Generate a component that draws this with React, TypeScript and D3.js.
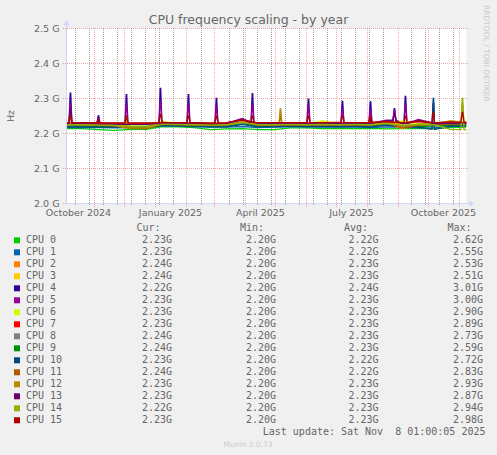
import React from 'react';
import * as d3 from 'd3';

const title = 'CPU frequency scaling - by year';
const yLabel = 'Hz';
const lastUpdate = 'Last update: Sat Nov  8 01:00:05 2025';
const version = 'Munin 2.0.73';
const watermark = 'RRDTOOL / TOBI OETIKER';

const cpuNames = [
  'CPU 0', 'CPU 1', 'CPU 2', 'CPU 3', 'CPU 4', 'CPU 5', 'CPU 6', 'CPU 7',
  'CPU 8', 'CPU 9', 'CPU 10', 'CPU 11', 'CPU 12', 'CPU 13', 'CPU 14', 'CPU 15',
];
const cpuColors = [
  '#00CC00', '#0066B3', '#FF8000', '#FFCC00', '#330099', '#990099', '#CCFF00', '#FF0000',
  '#808080', '#008F00', '#00487D', '#B35A00', '#B38F00', '#6B006B', '#8FB300', '#B30000',
];

// legend columns (GHz)
const curValues = [2.23, 2.23, 2.24, 2.24, 2.22, 2.23, 2.23, 2.23, 2.24, 2.24, 2.23, 2.24, 2.23, 2.23, 2.22, 2.23];
const minValues = [2.2, 2.2, 2.2, 2.2, 2.2, 2.2, 2.2, 2.2, 2.2, 2.2, 2.2, 2.2, 2.2, 2.2, 2.2, 2.2];
const avgValues = [2.22, 2.22, 2.23, 2.23, 2.24, 2.23, 2.23, 2.23, 2.23, 2.23, 2.22, 2.22, 2.23, 2.23, 2.23, 2.23];
const maxValues = [2.62, 2.55, 2.53, 2.51, 3.01, 3.0, 2.9, 2.89, 2.73, 2.59, 2.72, 2.83, 2.93, 2.87, 2.94, 2.98];

// sampled daily averages (GHz)
const sampleDates = [
  '2024-10-04', '2024-10-20', '2024-11-05', '2024-11-21', '2024-12-07', '2024-12-23',
  '2025-01-08', '2025-01-24', '2025-02-09', '2025-02-25', '2025-03-13', '2025-03-29',
  '2025-04-14', '2025-04-30', '2025-05-16', '2025-06-01', '2025-06-17', '2025-07-03',
  '2025-07-19', '2025-08-04', '2025-08-20', '2025-09-05', '2025-09-21', '2025-10-07',
  '2025-10-23', '2025-11-08',
];
const cpu0 = [2.214, 2.214, 2.211, 2.209, 2.212, 2.212, 2.220, 2.219, 2.217, 2.211, 2.213, 2.214, 2.211, 2.211, 2.216, 2.216, 2.214, 2.215, 2.214, 2.215, 2.213, 2.214, 2.215, 2.214, 2.217, 2.218];
const cpu1 = [2.217, 2.217, 2.217, 2.216, 2.217, 2.217, 2.222, 2.221, 2.219, 2.218, 2.218, 2.220, 2.217, 2.218, 2.219, 2.219, 2.218, 2.218, 2.219, 2.217, 2.219, 2.218, 2.216, 2.217, 2.220, 2.221];
const cpu2 = [2.224, 2.223, 2.222, 2.221, 2.216, 2.215, 2.226, 2.224, 2.222, 2.221, 2.223, 2.230, 2.221, 2.222, 2.224, 2.223, 2.224, 2.222, 2.223, 2.222, 2.226, 2.215, 2.222, 2.224, 2.226, 2.227];
const cpu3 = [2.226, 2.225, 2.224, 2.223, 2.219, 2.218, 2.235, 2.227, 2.225, 2.224, 2.225, 2.231, 2.224, 2.225, 2.226, 2.226, 2.234, 2.226, 2.227, 2.225, 2.229, 2.230, 2.226, 2.228, 2.236, 2.232];
const cpu4 = [2.228, 2.229, 2.228, 2.227, 2.226, 2.226, 2.229, 2.228, 2.228, 2.227, 2.228, 2.242, 2.229, 2.228, 2.229, 2.228, 2.228, 2.229, 2.228, 2.229, 2.236, 2.228, 2.238, 2.227, 2.230, 2.229];
const cpu5 = [2.229, 2.228, 2.229, 2.228, 2.227, 2.227, 2.230, 2.229, 2.229, 2.228, 2.229, 2.243, 2.229, 2.229, 2.230, 2.229, 2.229, 2.230, 2.229, 2.230, 2.238, 2.229, 2.240, 2.229, 2.231, 2.230];
const cpu6 = [2.225, 2.226, 2.225, 2.224, 2.222, 2.222, 2.230, 2.226, 2.226, 2.225, 2.226, 2.232, 2.226, 2.226, 2.226, 2.227, 2.237, 2.227, 2.228, 2.226, 2.230, 2.236, 2.228, 2.229, 2.234, 2.233];
const cpu7 = [2.230, 2.230, 2.230, 2.229, 2.229, 2.229, 2.231, 2.230, 2.230, 2.229, 2.230, 2.238, 2.230, 2.230, 2.230, 2.230, 2.230, 2.231, 2.230, 2.231, 2.233, 2.230, 2.234, 2.230, 2.232, 2.231];
const cpu8 = [2.222, 2.223, 2.222, 2.221, 2.220, 2.220, 2.225, 2.224, 2.223, 2.222, 2.222, 2.229, 2.222, 2.223, 2.223, 2.223, 2.224, 2.223, 2.223, 2.223, 2.226, 2.222, 2.225, 2.223, 2.226, 2.225];
const cpu9 = [2.221, 2.221, 2.220, 2.219, 2.219, 2.219, 2.224, 2.223, 2.222, 2.220, 2.221, 2.227, 2.220, 2.221, 2.222, 2.222, 2.221, 2.221, 2.222, 2.221, 2.224, 2.221, 2.220, 2.222, 2.224, 2.223];
const cpu10 = [2.219, 2.219, 2.218, 2.218, 2.218, 2.218, 2.223, 2.222, 2.221, 2.219, 2.219, 2.226, 2.219, 2.219, 2.221, 2.220, 2.220, 2.220, 2.220, 2.219, 2.223, 2.219, 2.218, 2.212, 2.221, 2.222];
const cpu11 = [2.225, 2.224, 2.223, 2.222, 2.215, 2.214, 2.226, 2.225, 2.224, 2.223, 2.224, 2.233, 2.223, 2.224, 2.225, 2.224, 2.225, 2.224, 2.225, 2.224, 2.230, 2.216, 2.224, 2.226, 2.227, 2.228];
const cpu12 = [2.226, 2.226, 2.225, 2.224, 2.216, 2.216, 2.228, 2.226, 2.226, 2.225, 2.226, 2.234, 2.226, 2.227, 2.227, 2.226, 2.227, 2.226, 2.227, 2.226, 2.231, 2.220, 2.227, 2.228, 2.236, 2.233];
const cpu13 = [2.228, 2.228, 2.227, 2.227, 2.226, 2.226, 2.229, 2.228, 2.228, 2.227, 2.228, 2.240, 2.228, 2.228, 2.229, 2.228, 2.228, 2.228, 2.228, 2.228, 2.236, 2.228, 2.237, 2.228, 2.230, 2.229];
const cpu14 = [2.225, 2.225, 2.224, 2.223, 2.220, 2.219, 2.227, 2.226, 2.225, 2.224, 2.225, 2.231, 2.225, 2.225, 2.226, 2.225, 2.226, 2.225, 2.226, 2.225, 2.229, 2.224, 2.226, 2.225, 2.212, 2.211];
const cpu15 = [2.231, 2.231, 2.231, 2.230, 2.230, 2.230, 2.231, 2.231, 2.231, 2.230, 2.231, 2.239, 2.231, 2.231, 2.231, 2.231, 2.231, 2.232, 2.231, 2.232, 2.234, 2.231, 2.235, 2.231, 2.233, 2.232];
const cpuSeries = [cpu0, cpu1, cpu2, cpu3, cpu4, cpu5, cpu6, cpu7, cpu8, cpu9, cpu10, cpu11, cpu12, cpu13, cpu14, cpu15];

// short peaks: [day, cpu index, peak GHz]
const spikes: [string, number, number][] = [
  ['2024-10-08', 4, 2.315], ['2024-10-08', 5, 2.285], ['2024-10-08', 13, 2.27], ['2024-10-08', 15, 2.25], ['2024-10-08', 12, 2.245],
  ['2024-11-05', 4, 2.252], ['2024-11-05', 5, 2.245], ['2024-11-05', 15, 2.238],
  ['2024-12-03', 4, 2.311], ['2024-12-03', 5, 2.28], ['2024-12-03', 15, 2.25], ['2024-12-03', 12, 2.245],
  ['2025-01-06', 4, 2.329], ['2025-01-06', 5, 2.29], ['2025-01-06', 15, 2.255],
  ['2025-02-03', 4, 2.311], ['2025-02-03', 5, 2.28], ['2025-02-03', 15, 2.25],
  ['2025-03-03', 4, 2.3], ['2025-03-03', 5, 2.275], ['2025-03-03', 15, 2.25],
  ['2025-04-08', 4, 2.314], ['2025-04-08', 5, 2.28], ['2025-04-08', 15, 2.25],
  ['2025-05-06', 12, 2.27], ['2025-05-06', 2, 2.255], ['2025-05-06', 11, 2.25],
  ['2025-06-03', 4, 2.298], ['2025-06-03', 5, 2.275], ['2025-06-03', 15, 2.25],
  ['2025-07-07', 4, 2.292], ['2025-07-07', 5, 2.27], ['2025-07-07', 15, 2.25],
  ['2025-08-04', 4, 2.292], ['2025-08-04', 5, 2.27], ['2025-08-04', 15, 2.25],
  ['2025-08-28', 4, 2.271], ['2025-08-28', 5, 2.265], ['2025-08-28', 13, 2.255],
  ['2025-09-08', 4, 2.306], ['2025-09-08', 5, 2.28], ['2025-09-08', 15, 2.25],
  ['2025-10-06', 10, 2.3], ['2025-10-06', 4, 2.285], ['2025-10-06', 15, 2.26],
  ['2025-11-04', 14, 2.3], ['2025-11-04', 12, 2.285], ['2025-11-04', 15, 2.26], ['2025-11-04', 3, 2.255],
];

const W = 497;
const H = 455;
const plot = { left: 66.5, right: 466.5, top: 28.5, bottom: 203.5 };
const sans = 'DejaVu Sans, sans-serif';
const mono = 'DejaVu Sans Mono, monospace';
const fontColor = '#666666';
const axisColor = '#CFD6F8';
const majorGrid = 'rgba(225,50,50,0.42)';
const minorGrid = 'rgba(100,100,100,0.6)';

const parseDay = d3.timeParse('%Y-%m-%d');
const endTime = new Date(2025, 10, 8, 1, 0, 5);
const startTime = d3.timeDay.offset(endTime, -400);

const x = d3.scaleTime().domain([startTime, endTime]).range([plot.left, plot.right]);
const y = d3.scaleLinear().domain([2.0e9, 2.5e9]).range([plot.bottom, plot.top]);
const snap = (v: number) => Math.round(v - 0.5) + 0.5;

type Pt = { t: Date; v: number };

function buildSeries(i: number): Pt[] {
  const dates = sampleDates.map(s => parseDay(s) as Date);
  const pts: Pt[] = dates.map((t, j) => ({ t, v: cpuSeries[i][j] * 1e9 }));
  spikes
    .filter(s => s[1] === i)
    .forEach(([day, , peak]) => {
      const t = parseDay(day) as Date;
      const j = d3.leastIndex(dates, d => Math.abs(+d - +t)) ?? 0;
      const base = cpuSeries[i][j] * 1e9;
      pts.push({ t: d3.timeHour.offset(t, -36), v: base });
      pts.push({ t: d3.timeHour.offset(t, -6), v: peak * 1e9 });
      pts.push({ t: d3.timeHour.offset(t, 6), v: peak * 1e9 });
      pts.push({ t: d3.timeHour.offset(t, 36), v: base });
    });
  return pts.sort((a, b) => +a.t - +b.t);
}

const line = d3
  .line<Pt>()
  .x(d => x(d.t))
  .y(d => y(d.v));

export default function App() {
  const monthTicks = d3.timeMonth.range(startTime, endTime);
  const refSunday = new Date(2024, 9, 13);
  const weekTicks = d3.timeSunday
    .range(startTime, endTime)
    .filter(d => d3.timeSunday.count(refSunday, d) % 2 === 0)
    .filter(d => !monthTicks.some(m => Math.abs(x(m) - x(d)) < 1.5));
  const labelMonths = d3.timeMonth
    .every(3)!
    .range(d3.timeMonth.offset(startTime, -1), endTime)
    .map(m => ({ m, cx: x(d3.timeDay.offset(m, 15)) }))
    .filter(l => l.cx > plot.left && l.cx < plot.right);
  const yTicks = y.ticks(5);
  const fmtMonth = d3.timeFormat('%B %Y');
  const fmtG = (v: number) => `${v.toFixed(2)}G`;

  const rowY = (i: number) => 243.3 + i * 12;
  const colRight = [172, 276, 378.5, 483];

  return (
    <svg
      width={W}
      height={H}
      style={{ position: 'absolute', left: 0, top: 0 }}
      xmlns="http://www.w3.org/2000/svg"
    >
      <defs>
        <clipPath id="plotClip">
          <rect x={plot.left} y={plot.top - 4} width={plot.right - plot.left} height={plot.bottom - plot.top + 4} />
        </clipPath>
      </defs>
      <rect width={W} height={H} fill="#F0F0F0" />
      <rect x={plot.left} y={plot.top} width={plot.right - plot.left} height={plot.bottom - plot.top} fill="#FFFFFF" />

      {/* minor grid */}
      {weekTicks.map(d => (
        <line
          key={`w${+d}`}
          x1={snap(x(d))}
          x2={snap(x(d))}
          y1={28}
          y2={206}
          stroke={minorGrid}
          strokeDasharray="1,1"
        />
      ))}
      {/* major grid */}
      {monthTicks.map(d => (
        <line
          key={`m${+d}`}
          x1={snap(x(d))}
          x2={snap(x(d))}
          y1={28}
          y2={207}
          stroke={majorGrid}
          strokeDasharray="1,1"
        />
      ))}
      {yTicks.map(v => (
        <line
          key={`h${v}`}
          x1={63}
          x2={469}
          y1={snap(y(v))}
          y2={snap(y(v))}
          stroke={majorGrid}
          strokeDasharray="1,1"
        />
      ))}

      {/* series */}
      <g clipPath="url(#plotClip)">
        {cpuSeries.map((_, i) => (
          <path key={cpuNames[i]} d={line(buildSeries(i)) ?? ''} fill="none" stroke={cpuColors[i]} strokeWidth={1.3} />
        ))}
      </g>

      {/* axes */}
      <line x1={plot.left} x2={plot.left} y1={plot.bottom} y2={plot.top - 6} stroke={axisColor} />
      <path d={`M${plot.left - 3},${plot.top - 3}L${plot.left},${plot.top - 9}L${plot.left + 3},${plot.top - 3}Z`} fill={axisColor} />
      <line x1={plot.left} x2={plot.right + 4} y1={plot.bottom} y2={plot.bottom} stroke={axisColor} />
      <path d={`M${plot.right + 3},${plot.bottom - 3}L${plot.right + 8},${plot.bottom}L${plot.right + 3},${plot.bottom + 3}Z`} fill={axisColor} />

      {/* y labels */}
      {yTicks.map(v => (
        <text
          key={`yl${v}`}
          x={59.5}
          y={y(v) + 3.5}
          textAnchor="end"
          fontFamily={sans}
          fontSize={9.5}
          fill={fontColor}
        >
          {`${(v / 1e9).toFixed(1)} G`}
        </text>
      ))}
      {/* x labels */}
      {labelMonths.map(l => (
        <text
          key={`xl${+l.m}`}
          x={l.cx}
          y={216}
          textAnchor="middle"
          fontFamily={sans}
          fontSize={9.5}
          fill={fontColor}
        >
          {fmtMonth(l.m)}
        </text>
      ))}

      <text x={248.5} y={24} textAnchor="middle" fontFamily={sans} fontSize={12.5} fill={fontColor}>
        {title}
      </text>
      <text
        transform={`translate(13.5,${(plot.top + plot.bottom) / 2}) rotate(-90)`}
        textAnchor="middle"
        fontFamily={sans}
        fontSize={9.5}
        fill={fontColor}
      >
        {yLabel}
      </text>
      <text transform="translate(484,5) rotate(90)" fontFamily={sans} fontSize={7.5} fill="#C8C8C8">
        {watermark}
      </text>

      {/* legend */}
      <g fontFamily={mono} fontSize={10} fill={fontColor}>
        <text x={136.5} y={231.3}>Cur:</text>
        <text x={240} y={231.3}>Min:</text>
        <text x={344} y={231.3}>Avg:</text>
        <text x={447.5} y={231.3}>Max:</text>
        {cpuNames.map((name, i) => (
          <g key={name}>
            <rect x={14} y={rowY(i) - 6} width={6} height={6} fill={cpuColors[i]} />
            <text x={26} y={rowY(i)}>{name}</text>
            <text x={colRight[0]} y={rowY(i)} textAnchor="end">{fmtG(curValues[i])}</text>
            <text x={colRight[1]} y={rowY(i)} textAnchor="end">{fmtG(minValues[i])}</text>
            <text x={colRight[2]} y={rowY(i)} textAnchor="end">{fmtG(avgValues[i])}</text>
            <text x={colRight[3]} y={rowY(i)} textAnchor="end">{fmtG(maxValues[i])}</text>
          </g>
        ))}
        <text x={485.5} y={435} textAnchor="end" style={{ whiteSpace: 'pre' }}>
          {lastUpdate}
        </text>
      </g>
      <text x={248} y={447} textAnchor="middle" fontFamily={sans} fontSize={7.5} fill="#CCCCCC">
        {version}
      </text>
    </svg>
  );
}
